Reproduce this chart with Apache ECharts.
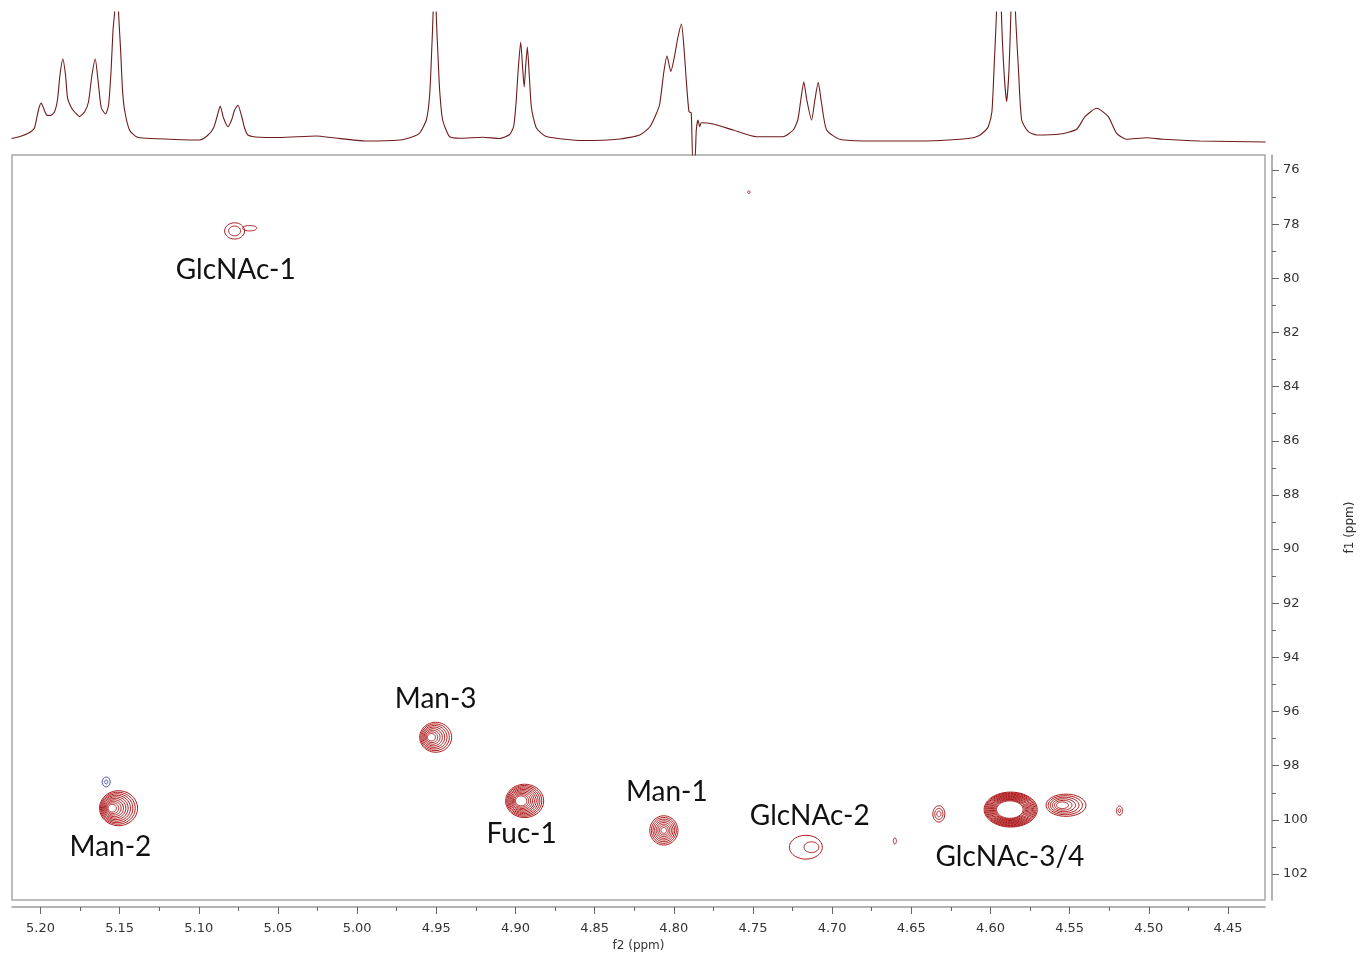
<!DOCTYPE html>
<html>
<head>
<meta charset="utf-8">
<title>HSQC anomeric region</title>
<script src="https://cdn.jsdelivr.net/npm/echarts@6/dist/echarts.min.js"></script>
<style>
  html, body { margin: 0; padding: 0; background: #fff; }
  #main { width: 1360px; height: 954px; }
</style>
</head>
<body>
<div id="main"></div>
<script>
// axis ranges, ppm (f2 runs right-to-left, f1 top-to-bottom)
var f2Min = 4.4266, f2Max = 5.218;
var f1Min = 75.446, f1Max = 102.96;

var f2Ticks = [4.45, 4.50, 4.55, 4.60, 4.65, 4.70, 4.75, 4.80, 4.85, 4.90, 4.95, 5.00, 5.05, 5.10, 5.15, 5.20];
var f2MinorTicks = [4.475, 4.525, 4.575, 4.625, 4.675, 4.725, 4.775, 4.825, 4.875, 4.925, 4.975, 5.025, 5.075, 5.125, 5.175];
var f1Ticks = [76, 78, 80, 82, 84, 86, 88, 90, 92, 94, 96, 98, 100, 102];
var f1MinorTicks = [77, 79, 81, 83, 85, 87, 89, 91, 93, 95, 97, 99, 101];

// 1H projection on top: [ppm, intensity]
var protonTrace = [
  [5.2183, 2.5], [5.2120, 5], [5.2063, 9], [5.2038, 13], [5.2013, 31], [5.1996, 38], [5.1981, 33],
  [5.1962, 26], [5.1937, 25.5], [5.1912, 29], [5.1893, 41], [5.1877, 66], [5.1859, 82], [5.1842, 66],
  [5.1829, 43], [5.1804, 33], [5.1779, 28], [5.1754, 24.5], [5.1722, 29], [5.1697, 39], [5.1675, 66],
  [5.1654, 82], [5.1637, 61], [5.1616, 33], [5.1589, 27], [5.1570, 36], [5.1554, 71], [5.1542, 111],
  [5.1532, 129], [5.1520, 220], [5.1507, 129], [5.1494, 91], [5.1482, 51], [5.1469, 31], [5.1438, 11],
  [5.1395, 4.3], [5.1332, 2.7], [5.1153, 1.5], [5.0995, 1], [5.0945, 5.5], [5.0907, 13], [5.0882, 26],
  [5.0865, 35], [5.0844, 23], [5.0816, 14.3], [5.0793, 21], [5.0774, 31], [5.0753, 35.7], [5.0730, 25],
  [5.0711, 13], [5.0690, 6], [5.0616, 3.7], [5.0490, 3.5], [5.0258, 5], [5.0155, 3.3], [4.9942, 0],
  [4.9731, 1], [4.9649, 4.3], [4.9605, 8], [4.9563, 21], [4.9542, 46], [4.9529, 91], [4.9520, 129],
  [4.9510, 220], [4.9501, 129], [4.9491, 91], [4.9479, 51], [4.9460, 21], [4.9416, 4.3], [4.9352, 2.7],
  [4.9207, 3.7], [4.9100, 2.5], [4.9037, 6.5], [4.9011, 15], [4.8995, 41], [4.8983, 71], [4.8967, 99],
  [4.8954, 71], [4.8945, 54], [4.8935, 76], [4.8925, 94], [4.8913, 66], [4.8899, 33], [4.8868, 13],
  [4.8805, 4.5], [4.8575, 0.5], [4.8341, 2], [4.8215, 6], [4.8152, 14], [4.8114, 26], [4.8089, 37],
  [4.8063, 69], [4.8043, 85], [4.8019, 69.5], [4.7994, 86], [4.7975, 103], [4.7952, 117], [4.7937, 96],
  [4.7920, 58], [4.7904, 29.3], [4.7890, 28], [4.7880, -19], [4.7867, -19], [4.7858, 11], [4.7847, 21],
  [4.7836, 14.3], [4.7826, 18.3], [4.7752, 17], [4.7626, 11], [4.7478, 4.3], [4.7310, 4.3], [4.7246, 11],
  [4.7217, 21], [4.7198, 41], [4.7179, 59.3], [4.7160, 41], [4.7130, 21], [4.7109, 41], [4.7088, 58.7],
  [4.7068, 39], [4.7035, 11], [4.6951, 1.7], [4.6761, 0], [4.6509, 0], [4.6319, 0.5], [4.6130, 2.7],
  [4.6077, 5], [4.6035, 10], [4.6014, 14.3], [4.5991, 29], [4.5975, 81], [4.5962, 129], [4.5947, 260],
  [4.5931, 129], [4.5915, 71], [4.5898, 39.3], [4.5883, 71], [4.5871, 129], [4.5856, 260], [4.5842, 129],
  [4.5824, 74.3], [4.5803, 21], [4.5761, 9.3], [4.5708, 6], [4.5561, 7], [4.5456, 11.7], [4.5403, 24.3],
  [4.5329, 32.7], [4.5256, 24.3], [4.5203, 7.7], [4.5140, 1.7], [4.5013, 3.3], [4.4910, 1.7], [4.4677, 0],
  [4.4262, -1]
];

// HSQC cross peaks (outer contour half-widths, number of contour levels)
var peakF2    = [5.1507, 5.1585, 4.9504, 4.8942, 4.8063, 4.7166, 4.6604, 4.6326, 4.5872, 4.5523, 4.5185, 5.0774, 5.0679, 4.7526];
var peakF1    = [99.57, 98.60, 96.95, 99.30, 100.39, 101.01, 100.78, 99.78, 99.62, 99.46, 99.66, 78.25, 78.15, 76.82];
var peakHalfW = [0.0120, 0.0025, 0.0101, 0.0120, 0.0089, 0.0104, 0.0010, 0.0038, 0.0168, 0.0126, 0.0019, 0.0063, 0.0045, 0.0008];
var peakHalfH = [0.646, 0.18, 0.554, 0.616, 0.54, 0.44, 0.11, 0.30, 0.646, 0.41, 0.17, 0.30, 0.10, 0.05];
var peakRings = [10, 2, 8, 10, 8, 2, 1, 3, 13, 6, 2, 2, 1, 1];
var peakCore  = [0.22, 0.4, 0.25, 0.3, 0.2, 0.45, 1, 0.35, 0.5, 0.3, 0.4, 0.6, 1, 1];
var peakDrift = [0.0040, 0, 0.0027, 0.0022, 0, -0.0035, 0, 0, 0.0006, 0.0022, 0, 0, 0, 0];
var peakSign  = [1, -1, 1, 1, 1, 1, 1, 1, 1, 1, 1, 1, 1, 1];

// assignments
var labelNames = ['GlcNAc-1', 'Man-3', 'Man-2', 'Fuc-1', 'Man-1', 'GlcNAc-2', 'GlcNAc-3/4'];
var labelF2    = [5.0767, 4.9504, 5.1558, 4.8961, 4.8044, 4.7141, 4.5877];
var labelF1    = [79.70, 95.54, 101.01, 100.53, 98.98, 99.87, 101.38];

var peakData = peakF2.map(function (x, i) {
  return [x, peakF1[i], peakHalfW[i], peakHalfH[i], peakRings[i], peakCore[i], peakDrift[i], peakSign[i]];
});
var labelData = labelNames.map(function (n, i) {
  return [labelF2[i], labelF1[i], n];
});

function renderPeak(params, api) {
  var n = api.value(4), core = api.value(5), drift = api.value(6);
  var color = api.value(7) > 0 ? '#ad1a1c' : '#3c3ca8';
  var children = [];
  for (var k = 0; k < n; k++) {
    var f = n === 1 ? 0 : k / (n - 1);
    var t = 1 - f * (1 - core);
    var c = api.coord([api.value(0) + drift * f, api.value(1)]);
    var s = api.size([api.value(2) * t, api.value(3) * t]);
    var pts = [];
    for (var a = 0; a < 48; a++) {
      var th = a / 48 * Math.PI * 2;
      pts.push([c[0] + s[0] * Math.cos(th), c[1] + s[1] * Math.sin(th)]);
    }
    children.push({
      type: 'polygon',
      shape: { points: pts },
      style: { fill: 'none', stroke: color, lineWidth: 1 }
    });
  }
  return { type: 'group', children: children };
}

function renderLabel(params, api) {
  var p = api.coord([api.value(0), api.value(1)]);
  return {
    type: 'text',
    x: p[0],
    y: p[1],
    style: {
      text: labelNames[params.dataIndex],
      fontSize: 28,
      fontFamily: 'Lato',
      fill: '#111',
      align: 'center',
      verticalAlign: 'middle'
    }
  };
}

var axisGray = '#9a9a9a';
var tickFont = { fontFamily: 'DejaVu Sans', fontSize: 13, color: '#333' };

var chart = echarts.init(document.getElementById('main'));
chart.setOption({
  animation: false,
  backgroundColor: '#fff',
  grid: [
    { left: 12, width: 1253, top: 12, height: 143, outerBoundsMode: 'none', containLabel: false },
    { left: 12, width: 1253, top: 155, height: 745, outerBoundsMode: 'none', containLabel: false,
      show: true, borderColor: '#a8a8a8', borderWidth: 1.5 }
  ],
  xAxis: [
    { gridIndex: 0, type: 'value', min: f2Min, max: f2Max, inverse: true, show: false },
    {
      gridIndex: 1, type: 'value', min: f2Min, max: f2Max, inverse: true, position: 'bottom', offset: 7,
      name: 'f2 (ppm)', nameLocation: 'middle', nameGap: 32,
      nameTextStyle: { fontFamily: 'DejaVu Sans', fontSize: 12, color: '#333' },
      axisLine: { lineStyle: { color: axisGray, width: 1.5 } },
      axisTick: { customValues: f2Ticks, length: 7, lineStyle: { color: '#666' } },
      axisLabel: Object.assign({ customValues: f2Ticks, margin: 15, formatter: function (v) { return v.toFixed(2); } }, tickFont),
      splitLine: { show: false }
    },
    {
      gridIndex: 1, type: 'value', min: f2Min, max: f2Max, inverse: true, position: 'bottom', offset: 7,
      axisLine: { show: false },
      axisTick: { customValues: f2MinorTicks, length: 4, lineStyle: { color: '#666' } },
      axisLabel: { show: false },
      splitLine: { show: false }
    }
  ],
  yAxis: [
    { gridIndex: 0, type: 'value', min: -14, max: 129, show: false },
    {
      gridIndex: 1, type: 'value', min: f1Min, max: f1Max, inverse: true, position: 'right', offset: 7,
      name: 'f1 (ppm)', nameLocation: 'middle', nameGap: 72, nameRotate: 90,
      nameTextStyle: { fontFamily: 'DejaVu Sans', fontSize: 12, color: '#333' },
      axisLine: { lineStyle: { color: axisGray, width: 1.5 } },
      axisTick: { customValues: f1Ticks, length: 7, lineStyle: { color: '#666' } },
      axisLabel: Object.assign({ customValues: f1Ticks, margin: 11 }, tickFont),
      splitLine: { show: false }
    },
    {
      gridIndex: 1, type: 'value', min: f1Min, max: f1Max, inverse: true, position: 'right', offset: 7,
      axisLine: { show: false },
      axisTick: { customValues: f1MinorTicks, length: 4, lineStyle: { color: '#666' } },
      axisLabel: { show: false },
      splitLine: { show: false }
    }
  ],
  series: [
    {
      type: 'line', xAxisIndex: 0, yAxisIndex: 0, data: protonTrace,
      showSymbol: false, smooth: 0.2, clip: true,
      lineStyle: { color: '#6e1b1b', width: 1.1 }
    },
    {
      type: 'custom', xAxisIndex: 1, yAxisIndex: 1, data: peakData,
      renderItem: renderPeak, clip: true
    },
    {
      type: 'custom', xAxisIndex: 1, yAxisIndex: 1, data: labelData,
      renderItem: renderLabel
    }
  ]
});
</script>
</body>
</html>
